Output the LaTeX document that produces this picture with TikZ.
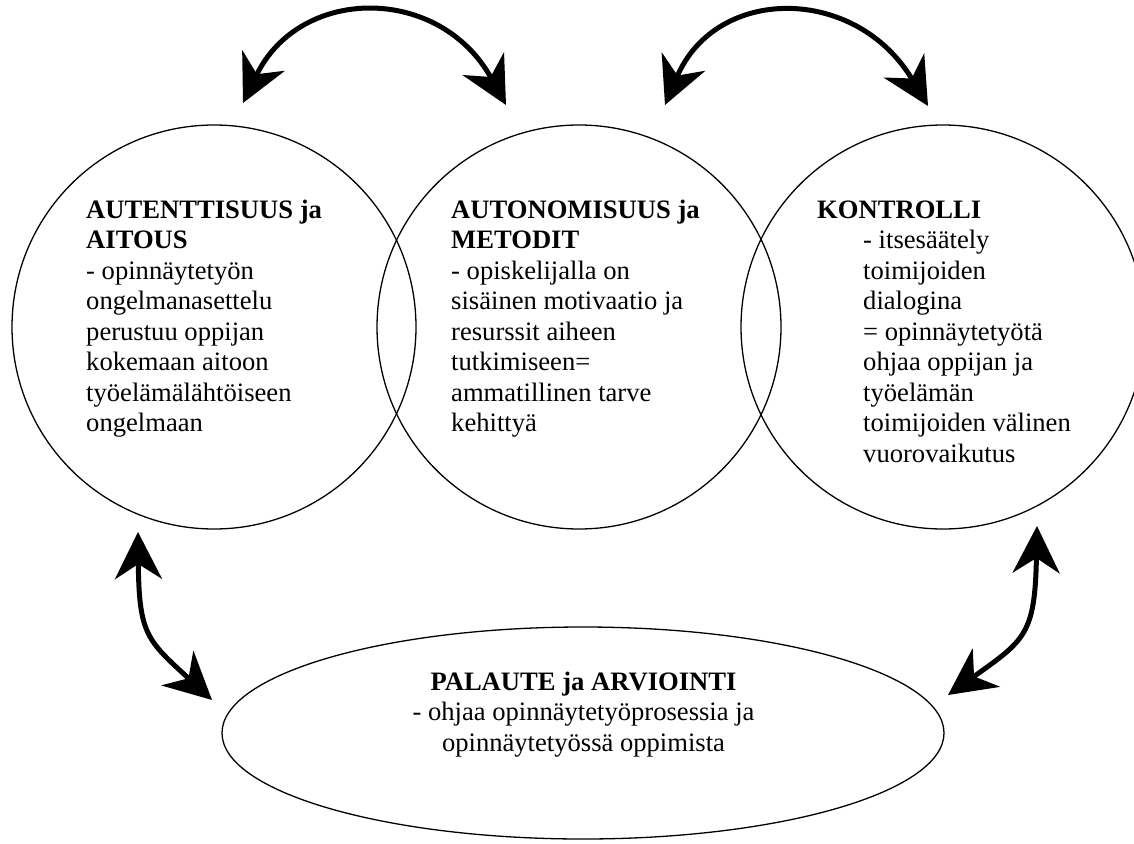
\documentclass[tikz,border=0pt]{standalone}
\usepackage{fontspec}
\setmainfont{Liberation Serif}
\usetikzlibrary{arrows.meta,shapes.geometric}
\begin{document}
\begin{tikzpicture}[x=1pt,y=-1pt,
  ring/.style={circle, draw, line width=1.3pt, minimum size=404pt, inner sep=0pt},
  oval/.style={ellipse, draw, line width=1.3pt, minimum width=722pt, minimum height=212pt, inner sep=0pt},
  txt/.style={inner sep=0pt, align=left, font=\fontsize{26.6}{30.5}\selectfont, anchor=base west},
  ctxt/.style={inner sep=0pt, align=center, font=\fontsize{26.6}{30.5}\selectfont, anchor=base},
  link/.style={line width=5pt, {Stealth[length=47pt,width=47pt,inset=15pt]}-{Stealth[length=47pt,width=47pt,inset=15pt]}}]
\clip (0,0) rectangle (1134,843);
\fill[white] (0,0) rectangle (1134,843);

\node[ring] (auth) at (214,327) {};
\node[ring] (auto) at (579,327) {};
\node[ring] (kont) at (943,327) {};
\node[oval] (pal) at (583,733) {};

% base anchor of a multi-line node = baseline of its last line
\node[txt] (authtxt) at (86,431.5) {\textbf{AUTENTTISUUS ja}\\\textbf{AITOUS}\\- opinnäytetyön\\ongelmanasettelu\\perustuu oppijan\\kokemaan aitoon\\työelämälähtöiseen\\ongelmaan};
\node[txt] (autotxt) at (451,431.5) {\textbf{AUTONOMISUUS ja}\\\textbf{METODIT}\\- opiskelijalla on\\sisäinen motivaatio ja\\resurssit aiheen\\tutkimiseen=\\ammatillinen tarve\\kehittyä};
\node[txt] (konttxt) at (817,462) {\textbf{KONTROLLI}\\\hspace*{46pt}- itsesäätely\\\hspace*{46pt}toimijoiden\\\hspace*{46pt}dialogina\\\hspace*{46pt}= opinnäytetyötä\\\hspace*{46pt}ohjaa oppijan ja\\\hspace*{46pt}työelämän\\\hspace*{46pt}toimijoiden välinen\\\hspace*{46pt}vuorovaikutus};
\node[ctxt] (paltxt) at (583.5,751) {\textbf{PALAUTE ja ARVIOINTI}\\- ohjaa opinnäytetyöprosessia ja\\opinnäytetyössä oppimista};

\coordinate (a1) at (243,103);
\coordinate (a2) at (506,105);
\coordinate (b1) at (665,105);
\coordinate (b2) at (928,106);
\coordinate (c1) at (138,532);
\coordinate (c2) at (212,700);
\coordinate (d1) at (1037,526);
\coordinate (d2) at (948,695);

\draw[link] (a1) .. controls (300,-15) and (440,-15) .. (a2);
\draw[link] (b1) .. controls (716,-15) and (856,-15) .. (b2);
\draw[link] (c1) .. controls (139,635) and (147,640) .. (c2);
\draw[link] (d1) .. controls (1035,635) and (1025,640) .. (d2);
\end{tikzpicture}
\end{document}
